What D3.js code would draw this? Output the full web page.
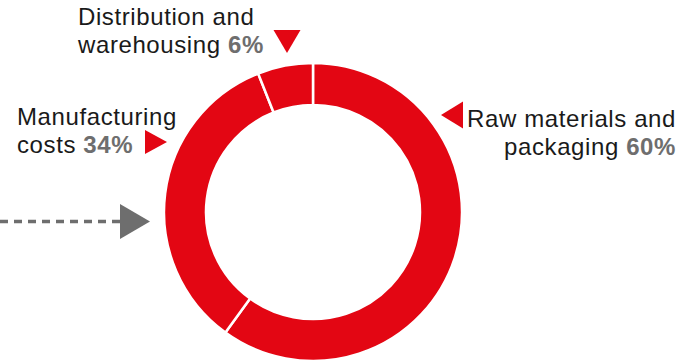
<!DOCTYPE html>
<html>
<head>
<meta charset="utf-8">
<script src="https://cdn.jsdelivr.net/npm/d3@7"></script>
<style>
  html, body { margin: 0; padding: 0; background: #fff; }
  svg { display: block; }
  text { font-family: "Liberation Sans", Arial, Helvetica, sans-serif; }
</style>
</head>
<body>
<svg id="chart" width="682" height="362"></svg>
<script>
// Cost breakdown, clockwise from 12 o'clock
const categories = ["Raw materials and packaging", "Manufacturing costs", "Distribution and warehousing"];
const values = [60, 34, 6];
const labelLines = [
  ["Raw materials and", "packaging"],
  ["Manufacturing", "costs"],
  ["Distribution and", "warehousing"]
];

const RED = "#e30613";
const GREY = "#6e6e6e";

const svg = d3.select("#chart");
const cx = 313, cy = 212;
const outerR = 149, innerR = 107;

const pie = d3.pie().sort(null).value(d => d)(values);
const arc = d3.arc().innerRadius(innerR).outerRadius(outerR);

const g = svg.append("g").attr("transform", `translate(${cx},${cy})`);
g.selectAll("path.slice")
  .data(pie)
  .join("path")
  .attr("class", "slice")
  .attr("d", arc)
  .attr("fill", RED)
  .attr("stroke", "#fff")
  .attr("stroke-width", 2.5)
  .attr("stroke-linejoin", "miter");

// Label layout: text position, anchor and pointer marker
const layout = [
  { x: 676, y: 127, anchor: "end",   tri: "left",  tx: 441, ty: 115 },
  { x: 17,  y: 125, anchor: "start", tri: "right", tx: 167, ty: 142 },
  { x: 78,  y: 25,  anchor: "start", tri: "down",  tx: 287, ty: 53 }
];
const fontSize = 24;
const lineH = 28;

categories.forEach((c, i) => {
  const L = layout[i];
  const t = svg.append("text")
    .attr("x", L.x).attr("y", L.y)
    .attr("text-anchor", L.anchor)
    .attr("font-size", fontSize)
    .attr("letter-spacing", 0.6)
    .attr("fill", "#1a1a1a");
  t.append("tspan").attr("x", L.x).attr("y", L.y).text(labelLines[i][0]);
  const t2 = t.append("tspan").attr("x", L.x).attr("y", L.y + lineH);
  t2.append("tspan").text(labelLines[i][1] + " ");
  t2.append("tspan").attr("font-weight", "bold").attr("fill", GREY).text(values[i] + "%");

  // Pointer triangle
  let pts;
  if (L.tri === "left")  pts = [[L.tx, L.ty], [L.tx + 22, L.ty - 13.5], [L.tx + 22, L.ty + 13.5]];
  if (L.tri === "right") pts = [[L.tx, L.ty], [L.tx - 22, L.ty - 12], [L.tx - 22, L.ty + 12]];
  if (L.tri === "down")  pts = [[L.tx, L.ty], [L.tx - 13.5, L.ty - 23], [L.tx + 13.5, L.ty - 23]];
  svg.append("path")
    .attr("d", d3.line()(pts) + "Z")
    .attr("fill", RED);
});

// Incoming dashed arrow on the left
const ay = 221.5;
svg.append("line")
  .attr("x1", 0).attr("x2", 120)
  .attr("y1", ay).attr("y2", ay)
  .attr("stroke", GREY)
  .attr("stroke-width", 3.5)
  .attr("stroke-dasharray", "8,6");
svg.append("path")
  .attr("d", d3.line()([[150, ay], [120, ay - 17.5], [120, ay + 17.5]]) + "Z")
  .attr("fill", GREY);
</script>
</body>
</html>
